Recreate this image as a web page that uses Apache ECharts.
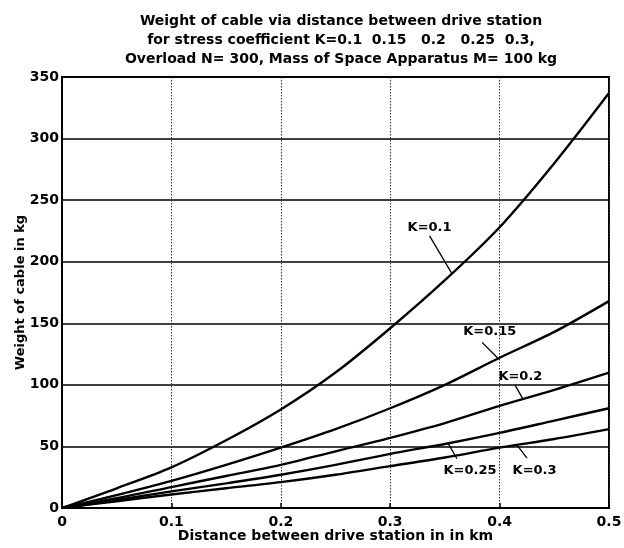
<!DOCTYPE html>
<html>
<head>
<meta charset="utf-8">
<script src="https://cdn.jsdelivr.net/npm/echarts@6/dist/echarts.min.js"></script>
<style>html,body{margin:0;padding:0;background:#fff}#c{width:624px;height:548px}</style>
</head>
<body>
<div id="c"></div>
<script>
// distances (km)
var distances = [0, 0.05, 0.1, 0.15, 0.2, 0.25, 0.3, 0.35, 0.4, 0.45, 0.5];
// weight of cable (kg) for each stress coefficient K
var k010 = [0, 16, 33, 55, 80, 110, 146, 185, 228, 280, 337];
var k015 = [0, 10.5, 22, 35, 49, 64, 81, 100, 122, 143, 168];
var k020 = [0, 8, 17, 26, 35, 46, 57, 69, 83, 96, 110];
var k025 = [0, 6.5, 13.5, 20, 27, 35, 44, 52, 61, 71, 81];
var k030 = [0, 5.5, 11, 16, 21, 27, 34, 41, 49, 56, 64];
var seriesNames = ['K=0.1', 'K=0.15', 'K=0.2', 'K=0.25', 'K=0.3'];
var xTicks = ['0', '0.1', '0.2', '0.3', '0.4', '0.5'];
var yTicks = ['0', '50', '100', '150', '200', '250', '300', '350'];
// annotation label anchor (data units) and pointer segments (data units)
var labelPos = [[0.336, 228], [0.391, 143], [0.419, 107], [0.373, 30], [0.432, 30]];
var pointerFrom = [[0.336, 221], [0.384, 134.5], [0.414, 100], [0.361, 40], [0.425, 40.5]];
var pointerTo = [[0.356, 191], [0.398, 122], [0.421, 89], [0.353, 52.5], [0.416, 51]];

var allSeries = [k010, k015, k020, k025, k030];
var FONT = 'DejaVu Sans, Verdana, sans-serif';

var series = allSeries.map(function (vals, i) {
  return {
    name: seriesNames[i],
    type: 'line',
    smooth: 0.3,
    symbol: 'none',
    data: distances.map(function (d, j) { return [d, vals[j]]; }),
    lineStyle: { color: '#000', width: 2.4 },
    z: 5,
    markLine: {
      silent: true,
      symbol: 'none',
      label: { show: false },
      lineStyle: { color: '#000', width: 1.3, type: 'solid' },
      data: [[{ coord: pointerFrom[i] }, { coord: pointerTo[i] }]]
    }
  };
});
series.push({
  type: 'scatter',
  symbolSize: 0,
  silent: true,
  z: 10,
  itemStyle: { opacity: 1, color: '#000' },
  data: labelPos.map(function (p, i) { return { value: p, name: seriesNames[i] }; }),
  label: {
    show: true,
    position: 'inside',
    formatter: function (p) { return p.name; },
    color: '#000',
    opacity: 1,
    textBorderWidth: 0,
    fontFamily: FONT,
    fontWeight: 'bold',
    fontSize: 13
  }
});

var chart = echarts.init(document.getElementById('c'), null, { renderer: 'canvas' });
chart.setOption({
  animation: false,
  backgroundColor: '#fff',
  title: {
    text: 'Weight of cable via distance between drive station\nfor stress coefficient K=0.1  0.15   0.2   0.25  0.3,\nOverload N= 300, Mass of Space Apparatus M= 100 kg',
    left: 336,
    textAlign: 'center',
    top: 7,
    textStyle: { fontFamily: FONT, fontWeight: 'bold', fontSize: 14, lineHeight: 19, color: '#000' }
  },
  grid: { left: 62, right: 15, top: 77, bottom: 40, outerBoundsMode: 'none', show: true, borderColor: '#000', borderWidth: 2, backgroundColor: 'transparent' },
  xAxis: {
    type: 'value', min: 0, max: 0.5, interval: 0.1,
    name: 'Distance between drive station in in km',
    nameLocation: 'middle', nameGap: 21, nameMoveOverlap: false,
    nameTextStyle: { fontFamily: FONT, fontWeight: 'bold', fontSize: 14, color: '#000' },
    axisLine: { lineStyle: { color: '#000', width: 2 } },
    axisTick: { inside: true, length: 5, lineStyle: { color: '#000', width: 1.5 } },
    axisLabel: { fontFamily: FONT, fontWeight: 'bold', fontSize: 14, color: '#000', margin: 7,
      formatter: function (v) { return xTicks[Math.round(v * 10)]; } },
    splitLine: { show: true, lineStyle: { color: '#333', width: 1, type: [1.5, 1.5] } }
  },
  yAxis: {
    type: 'value', min: 0, max: 350, interval: 50,
    name: 'Weight of cable in kg',
    nameLocation: 'middle', nameGap: 35, nameMoveOverlap: false,
    nameTextStyle: { fontFamily: FONT, fontWeight: 'bold', fontSize: 13, color: '#000' },
    axisLine: { lineStyle: { color: '#000', width: 2 } },
    axisTick: { show: false },
    axisLabel: { fontFamily: FONT, fontWeight: 'bold', fontSize: 14, color: '#000', margin: 3,
      formatter: function (v) { return yTicks[Math.round(v / 50)]; } },
    splitLine: { show: true, lineStyle: { color: '#000', width: 1.6 } }
  },
  series: series
});
</script>
</body>
</html>
